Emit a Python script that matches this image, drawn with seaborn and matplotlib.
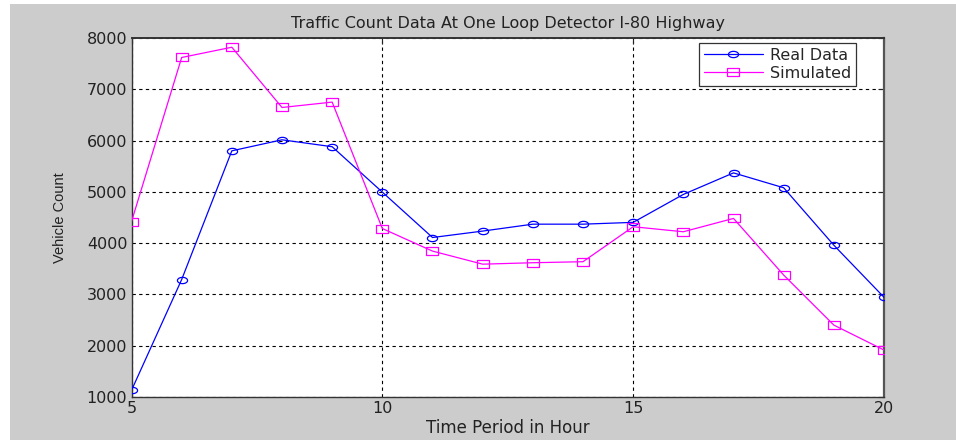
import matplotlib
matplotlib.use("Agg")
import matplotlib.pyplot as plt
import seaborn as sns
import pandas as pd
import numpy as np
from matplotlib.patches import Rectangle
from matplotlib.path import Path

hours = [5, 6, 7, 8, 9, 10, 11, 12, 13, 14, 15, 16, 17, 18, 19, 20]
real_data = [1130, 3290, 5800, 6015, 5880, 4995, 4110, 4235, 4370, 4370, 4405, 4950, 5370, 5080, 3960, 2945]
simulated = [4420, 7620, 7820, 6645, 6750, 4285, 3845, 3590, 3618, 3638, 4320, 4222, 4482, 3378, 2402, 1916]
x_ticks = [5, 10, 15, 20]
y_ticks = [1000, 2000, 3000, 4000, 5000, 6000, 7000, 8000]

sns.set_style("white")
plt.rcParams['font.family'] = ['DejaVu Sans']

# wide (horizontally stretched) marker shapes, as in the reference
t = np.linspace(0, 2 * np.pi, 41)
ellipse = Path(np.column_stack([np.cos(t), 0.62 * np.sin(t)]), closed=True)
rect = Path([(-1, -0.64), (1, -0.64), (1, 0.64), (-1, 0.64), (-1, -0.64)], closed=True)

fig = plt.figure(figsize=(9.56, 4.4), dpi=100, facecolor='white')
fig.patches.append(Rectangle((10/956, 0), 1 - 10/956, 1 - 4/440, transform=fig.transFigure,
                             facecolor='#cccccc', edgecolor='none', zorder=-10))
ax = fig.add_axes([131.5/956, 1 - 397/440, (884 - 131.5)/956, (397 - 38)/440])
ax.set_facecolor('white')

df = pd.DataFrame({'hour': hours, 'real': real_data, 'sim': simulated})
sns.lineplot(data=df, x='hour', y='real', ax=ax, color='#0000ff', lw=0.9,
             marker=ellipse, markersize=7.3, markerfacecolor='none', markeredgecolor='#0000ff',
             markeredgewidth=0.9, label='Real Data', zorder=3)
sns.lineplot(data=df, x='hour', y='sim', ax=ax, color='#ff00ff', lw=0.9,
             marker=rect, markersize=8, markerfacecolor='none', markeredgecolor='#ff00ff',
             markeredgewidth=0.9, label='Simulated', zorder=3)

ax.set_xlim(5, 20)
ax.set_ylim(1000, 8000)
ax.set_xticks(x_ticks)
ax.set_yticks(y_ticks)
ax.tick_params(direction='in', length=4, width=0.8, labelsize=11.5, colors='#222222',
               top=True, right=True, pad=3)
ax.tick_params(axis='x', pad=3)
ax.grid(True, color='black', linestyle=(0, (3, 3)), linewidth=0.8)
for s in ax.spines.values():
    s.set_color('#333333')
    s.set_linewidth(1.0)
ax.spines['right'].set_linewidth(1.6)
ax.spines['right'].set_color('#555555')
ax.spines['top'].set_linewidth(1.4)

ax.set_title('Traffic Count Data At One Loop Detector I-80 Highway', fontsize=11.5,
             color='#222222', pad=7)
ax.set_xlabel('Time Period in Hour', fontsize=12, color='#222222', labelpad=2)
ax.set_ylabel('Vehicle Count', fontsize=10.5, color='#222222', labelpad=14,
              family=['Liberation Sans', 'DejaVu Sans'])

leg = ax.legend(loc='upper right', bbox_to_anchor=((856 - 131.5) / 752.5, (397 - 43) / 359),
                borderaxespad=0, fontsize=11.5, frameon=True, fancybox=False,
                edgecolor='#333333', framealpha=1,
                handlelength=3.7, borderpad=0.3, labelspacing=0.2, handletextpad=0.45)
leg.get_frame().set_linewidth(0.9)

fig.savefig('out.png', dpi=100, facecolor=fig.get_facecolor())
